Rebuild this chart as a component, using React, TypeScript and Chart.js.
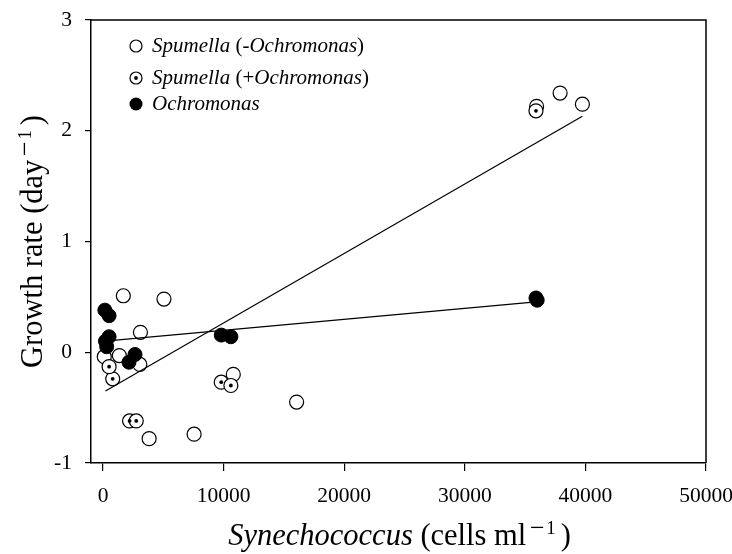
import React, { useEffect, useRef } from "react";
import { Chart, registerables } from "chart.js";

Chart.register(...registerables);

// ---- data ----
const spumMinusX = [1680, 5050, 3100, 3050, 1350, 100, 10800, 7550, 3820, 16050, 37900, 39750, 35950];
const spumMinusY = [0.51, 0.48, 0.18, -0.11, -0.03, -0.04, -0.2, -0.74, -0.78, -0.45, 2.34, 2.24, 2.22];

const spumPlusX = [800, 500, 9800, 10600, 2200, 2750, 35900];
const spumPlusY = [-0.24, -0.13, -0.27, -0.3, -0.62, -0.62, 2.18];

const ochX = [150, 500, 500, 200, 300, 2650, 2150, 9800, 10600, 35900, 36000];
const ochY = [0.38, 0.33, 0.14, 0.1, 0.05, -0.02, -0.09, 0.155, 0.14, 0.49, 0.47];

const fitSpumX = [200, 39750];
const fitSpumY = [-0.35, 2.13];
const fitOchX = [150, 35900];
const fitOchY = [0.1, 0.455];

const xTickValues = [0, 10000, 20000, 30000, 40000, 50000];
const yTickValues = [-1, 0, 1, 2, 3];

// text segments: it = italic, f = size factor, up = raise (em), gap = space before (em)
type Seg = { t: string; it?: boolean; f?: number; up?: number; gap?: number };
const legendRows: Seg[][] = [
  [{ t: "Spumella", it: true }, { t: " (-" }, { t: "Ochromonas", it: true }, { t: ")" }],
  [{ t: "Spumella", it: true }, { t: " (+" }, { t: "Ochromonas", it: true }, { t: ")" }],
  [{ t: "Ochromonas", it: true }],
];
const supMinusOne: Seg[] = [
  { t: "\u2212", f: 0.85, up: 0.3, gap: 0.12 },
  { t: "1", f: 0.62, up: 0.37, gap: 0.06 },
  { t: ")", gap: 0.16 },
];
const xTitle: Seg[] = [{ t: "Synechococcus", it: true }, { t: " (cells ml" }, ...supMinusOne];
const yTitle: Seg[] = [{ t: "Growth rate (day" }, ...supMinusOne];

const FONT = "'Liberation Serif', 'Times New Roman', serif";

const toPts = (xs: number[], ys: number[]) => xs.map((x, i) => ({ x, y: ys[i] }));

function drawRich(ctx: CanvasRenderingContext2D, segs: Seg[], x: number, y: number, size: number, align: "left" | "center") {
  const parts = segs.map((s) => {
    const fs = size * (s.f ?? 1);
    const font = `${s.it ? "italic " : ""}${fs}px ${FONT}`;
    ctx.font = font;
    return { ...s, font, w: ctx.measureText(s.t).width, g: (s.gap ?? 0) * size };
  });
  const total = parts.reduce((a, p) => a + p.w + p.g, 0);
  let cx = align === "center" ? x - total / 2 : x;
  ctx.textAlign = "left";
  ctx.textBaseline = "alphabetic";
  ctx.fillStyle = "#000";
  for (const p of parts) {
    cx += p.g;
    ctx.font = p.font;
    ctx.fillText(p.t, cx, y - (p.up ?? 0) * size);
    cx += p.w;
  }
}

function centerDot(ctx: CanvasRenderingContext2D, x: number, y: number) {
  ctx.beginPath();
  ctx.arc(x, y, 1.9, 0, Math.PI * 2);
  ctx.fillStyle = "#000";
  ctx.fill();
}

const DOTTED_LABEL = "Spumella (+Ochromonas)";

export default function App() {
  const ref = useRef<HTMLCanvasElement | null>(null);

  useEffect(() => {
    if (!ref.current) return;

    const dotPlugin = {
      id: "centerDots",
      afterDatasetDraw(chart: any, args: any) {
        const ds = chart.data.datasets[args.index];
        if (ds.label !== DOTTED_LABEL) return;
        const ctx: CanvasRenderingContext2D = chart.ctx;
        ctx.save();
        args.meta.data.forEach((el: any) => centerDot(ctx, el.x, el.y));
        ctx.restore();
      },
    };

    const decorPlugin = {
      id: "decor",
      afterDraw(chart: any) {
        const ctx: CanvasRenderingContext2D = chart.ctx;
        const a = chart.chartArea;
        ctx.save();
        // frame top & right
        ctx.strokeStyle = "#000";
        ctx.lineWidth = 1.5;
        ctx.beginPath();
        ctx.moveTo(a.left, a.top);
        ctx.lineTo(a.right, a.top);
        ctx.lineTo(a.right, a.bottom);
        ctx.stroke();

        // axis titles
        drawRich(ctx, xTitle, (a.left + a.right) / 2 + 1, 545, 30.5, "center");
        ctx.save();
        ctx.translate(42, (a.top + a.bottom) / 2);
        ctx.rotate(-Math.PI / 2);
        drawRich(ctx, yTitle, 0, 0, 30.5, "center");
        ctx.restore();

        // legend
        const mx = 136;
        const rowsY = [46, 78, 104];
        ctx.lineWidth = 1.2;
        ctx.strokeStyle = "#000";
        ctx.beginPath();
        ctx.arc(mx, rowsY[0], 6, 0, Math.PI * 2);
        ctx.fillStyle = "#fff";
        ctx.fill();
        ctx.stroke();
        ctx.beginPath();
        ctx.arc(mx, rowsY[1], 6, 0, Math.PI * 2);
        ctx.fillStyle = "#fff";
        ctx.fill();
        ctx.stroke();
        centerDot(ctx, mx, rowsY[1]);
        ctx.beginPath();
        ctx.arc(mx, rowsY[2], 6.5, 0, Math.PI * 2);
        ctx.fillStyle = "#000";
        ctx.fill();
        legendRows.forEach((segs, i) => drawRich(ctx, segs, 152, rowsY[i] + 6, 21, "left"));
        ctx.restore();
      },
    };

    const chart = new Chart(ref.current, {
      type: "scatter",
      data: {
        datasets: [
          {
            label: "fitSpum",
            data: toPts(fitSpumX, fitSpumY),
            showLine: true,
            borderColor: "#000",
            borderWidth: 1.2,
            pointRadius: 0,
            order: 1,
          },
          {
            label: "fitOch",
            data: toPts(fitOchX, fitOchY),
            showLine: true,
            borderColor: "#000",
            borderWidth: 1.2,
            pointRadius: 0,
            order: 1,
          },
          {
            label: "Ochromonas",
            data: toPts(ochX, ochY),
            pointRadius: 7,
            pointBackgroundColor: "#000",
            pointBorderColor: "#000",
            pointBorderWidth: 1,
            order: 2,
          },
          {
            label: DOTTED_LABEL,
            data: toPts(spumPlusX, spumPlusY),
            pointRadius: 7,
            pointBackgroundColor: "#fff",
            pointBorderColor: "#000",
            pointBorderWidth: 1.2,
            order: 3,
          },
          {
            label: "Spumella (-Ochromonas)",
            data: toPts(spumMinusX, spumMinusY),
            pointRadius: 7,
            pointBackgroundColor: "#fff",
            pointBorderColor: "#000",
            pointBorderWidth: 1.2,
            order: 4,
          },
        ] as any,
      },
      options: {
        animation: false,
        responsive: false,
        events: [],
        layout: { padding: { top: 20, right: 26, left: 0, bottom: 0 } },
        plugins: { legend: { display: false }, tooltip: { enabled: false } },
        scales: {
          x: {
            type: "linear",
            min: -1000,
            max: 50000,
            afterBuildTicks: (s: any) => {
              s.ticks = xTickValues.map((v) => ({ value: v }));
            },
            afterFit: (s: any) => {
              s.height = 91;
              s.paddingLeft = 0;
              s.paddingRight = 0;
            },
            ticks: {
              color: "#000",
              font: { family: FONT, size: 21.5 },
              padding: 12,
              maxRotation: 0,
              callback: (v: any) => String(v),
            },
            grid: { drawOnChartArea: false, drawTicks: true, tickLength: 8, color: "#000", lineWidth: 1.2 },
            border: { display: true, color: "#000", width: 1.5 },
          },
          y: {
            type: "linear",
            min: -1,
            max: 3,
            afterBuildTicks: (s: any) => {
              s.ticks = yTickValues.map((v) => ({ value: v }));
            },
            afterFit: (s: any) => {
              s.width = 91;
              s.paddingTop = 0;
              s.paddingBottom = 0;
            },
            ticks: {
              color: "#000",
              font: { family: FONT, size: 21.5 },
              padding: 13,
              callback: (v: any) => String(v),
            },
            grid: { drawOnChartArea: false, drawTicks: true, tickLength: 6, color: "#000", lineWidth: 1.2 },
            border: { display: true, color: "#000", width: 1.5 },
          },
        },
      } as any,
      plugins: [dotPlugin, decorPlugin],
    });
    return () => chart.destroy();
  }, []);

  return (
    <div style={{ position: "absolute", left: 0, top: 0, width: 732, height: 554, background: "#fff" }}>
      <canvas ref={ref} width={732} height={554} style={{ width: 732, height: 554, display: "block" }} />
    </div>
  );
}
